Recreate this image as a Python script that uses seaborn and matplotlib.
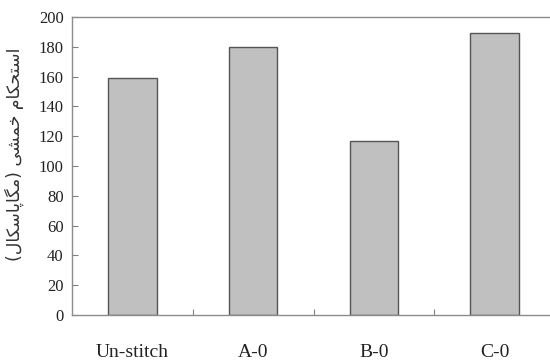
import matplotlib
matplotlib.use("Agg")
import matplotlib.pyplot as plt
import seaborn as sns
import pandas as pd

categories = ["Un-stitch", "A-0", "B-0", "C-0"]
values = [159, 180, 117, 189]
yticks = [0, 20, 40, 60, 80, 100, 120, 140, 160, 180, 200]

# Persian label "استحکام خمشی (مگاپاسکال)" written in shaped presentation forms, visual order
w1 = "\uFE8D\uFEB3\uFE98\uFEA4\uFB91\uFE8E\uFEE1"          # استحکام
w2 = "\uFEA7\uFEE4\uFEB8\uFBFD"                          # خمشی
w3 = "\uFEE3\uFB95\uFE8E\uFB58\uFE8E\uFEB3\uFB91\uFE8E\uFEDD"  # مگاپاسکال
ylabel = "(" + w3[::-1] + ")" + " " + w2[::-1] + " " + w1[::-1]

sns.set_theme(style="white")
plt.rcParams["font.family"] = ["Liberation Serif", "DejaVu Sans"]

df = pd.DataFrame({"cat": categories, "val": values})

fig = plt.figure(figsize=(5.5, 3.63), dpi=100)
ax = fig.add_axes([72/550, 1-315/363, (555-72)/550, (315-17)/363])
sns.barplot(data=df, x="cat", y="val", color="#c0c0c0", saturation=1,
            width=0.4, edgecolor="#555555", linewidth=1, ax=ax)

ax.set_xlim(-0.5, 3.5)
ax.set_ylim(0, 200)
ax.set_yticks(yticks)
ax.set_yticklabels([str(v) for v in yticks], fontsize=12, color="#222222")
ax.set_xticks([0.5, 1.5, 2.5])
ax.set_xticklabels([])
ax.tick_params(axis="x", direction="in", length=4, width=0.8, color="#808080", bottom=True)
ax.tick_params(axis="y", direction="in", length=4, width=0.8, color="#808080", left=True, pad=6)
for i, c in enumerate(categories):
    ax.text(i, -0.125, c, transform=ax.get_xaxis_transform(), ha="center", va="center",
            fontsize=14, color="#222222")
ax.set_xlabel("")
ax.set_ylabel(ylabel, family=["DejaVu Sans"], fontsize=12.5, color="#333333")
ax.yaxis.set_label_coords(-0.1, 0.54)
for s in ["top", "bottom", "left"]:
    ax.spines[s].set_visible(True)
    ax.spines[s].set_color("#8c8c8c")
    ax.spines[s].set_linewidth(1.0)
ax.spines["right"].set_visible(False)

fig.savefig("out.png", dpi=100)
